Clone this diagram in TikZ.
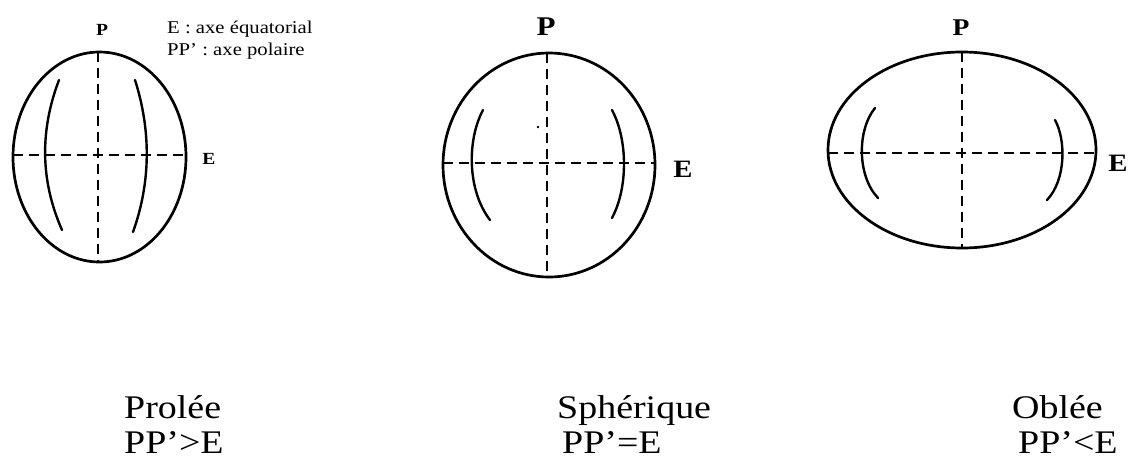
\documentclass[tikz,border=0pt]{standalone}
\usepackage{graphicx}
\usepackage{fontspec}
\setmainfont{Liberation Serif}
\newcommand{\hstretch}[1]{\scalebox{1.15}[1]{#1}}
\begin{document}
\begin{tikzpicture}[x=1pt,y=-1pt,
  outline/.style={line width=2.7pt,black},
  axis/.style={line width=2pt,black,dash pattern=on 10pt off 6pt},
  merid/.style={line width=2.4pt,black,line cap=round},
  lbl/.style={inner sep=0pt,font=\bfseries\fontsize{#1}{#1}\selectfont},
  legend/.style={inner sep=0pt,anchor=base west,font=\fontsize{18}{20}\selectfont},
  caption/.style={inner sep=0pt,anchor=base west,font=\fontsize{33}{36}\selectfont}]
\useasboundingbox (0,0) rectangle (1131,466);
% ---- Prolée ----
\draw[outline] (99.5,157) ellipse [x radius=86.5,y radius=105];
\draw[axis] (98,52) -- (98,262);
\draw[axis] (13,155) -- (186,155);
\draw[merid] (59,80) .. controls (40,130) and (40,180) .. (62,230);
\draw[merid] (135,80) .. controls (151,130) and (151,182) .. (133,232);
\node[lbl=17] (P1) at (102,30) {\hstretch{P}};
\node[lbl=17] (E1) at (209,159) {\hstretch{E}};
\node[legend] (L1) at (167,33) {\hstretch{E : axe équatorial}};
\node[legend] (L2) at (167,55) {\hstretch{PP’ : axe polaire}};
% ---- Sphérique ----
\draw[outline] (549,165) ellipse [x radius=106,y radius=112];
\draw[axis] (547,53) -- (547,277);
\draw[axis] (443,163) -- (655,163);
\draw[merid] (483,110) .. controls (467,140) and (467,190) .. (490,220);
\draw[merid] (612,110) .. controls (628,140) and (628,188) .. (612,218);
\fill (538,127) circle (1.3);
\node[lbl=27] (P2) at (546,27) {\hstretch{P}};
\node[lbl=25] (E2) at (683,169) {\hstretch{E}};
% ---- Oblée ----
\draw[outline] (962,150) ellipse [x radius=134,y radius=98];
\draw[axis] (962,52) -- (962,248);
\draw[axis] (828,153) -- (1096,153);
\draw[merid] (875,108) .. controls (857,130) and (857,176) .. (878,198);
\draw[merid] (1055,120) .. controls (1066,140) and (1066,180) .. (1047,200);
\node[lbl=24] (P3) at (961,28) {\hstretch{P}};
\node[lbl=25] (E3) at (1118,163) {\hstretch{E}};
% ---- captions ----
\node[caption] (C1) at (124,418) {\hstretch{Prolée}};
\node[caption] (C2) at (124,453) {\hstretch{PP’>E}};
\node[caption] (C3) at (557,418) {\hstretch{Sphérique}};
\node[caption] (C4) at (562,453) {\hstretch{PP’=E}};
\node[caption] (C5) at (1012,418) {\hstretch{Oblée}};
\node[caption] (C6) at (1018,453) {\hstretch{PP’<E}};
\end{tikzpicture}
\end{document}
